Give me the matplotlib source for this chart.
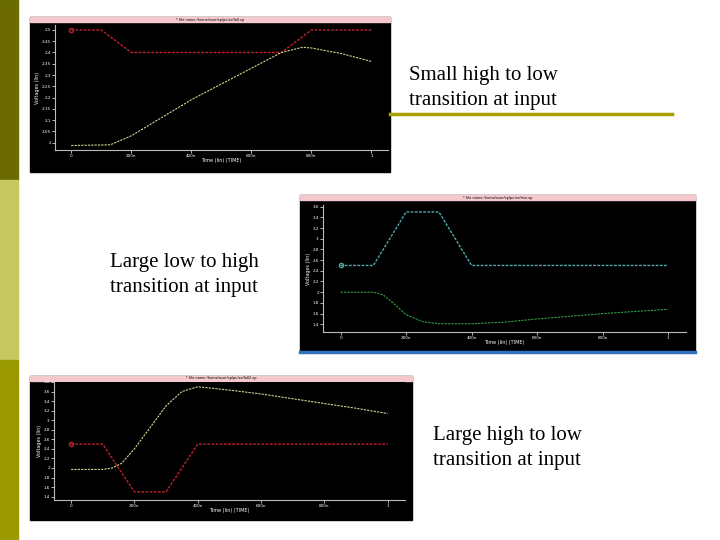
import matplotlib
matplotlib.use("Agg")
import matplotlib.pyplot as plt
from matplotlib.patches import Rectangle

W, H = 720, 540
fig = plt.figure(figsize=(7.2, 5.4), dpi=100)

# data
t1_in = [0, 0.1, 0.2, 0.7, 0.8, 1.0]
v1_in = [2.5, 2.5, 2.4, 2.4, 2.5, 2.5]
t1_out = [0, 0.13, 0.2, 0.3, 0.4, 0.5, 0.6, 0.7, 0.77, 0.8, 0.9, 1.0]
v1_out = [1.987, 1.99, 2.03, 2.11, 2.19, 2.26, 2.33, 2.40, 2.423, 2.42, 2.395, 2.36]
yt1 = [2, 2.05, 2.1, 2.15, 2.2, 2.25, 2.3, 2.35, 2.4, 2.45, 2.5]

t2_in = [0, 0.1, 0.2, 0.3, 0.4, 1.0]
v2_in = [2.5, 2.5, 3.5, 3.5, 2.5, 2.5]
t2_out = [0, 0.1, 0.13, 0.16, 0.2, 0.25, 0.3, 0.4, 0.5, 0.6, 0.7, 0.8, 0.9, 1.0]
v2_out = [2.0, 2.0, 1.95, 1.8, 1.58, 1.45, 1.41, 1.41, 1.44, 1.5, 1.55, 1.6, 1.64, 1.68]
yt2 = [1.4, 1.6, 1.8, 2, 2.2, 2.4, 2.6, 2.8, 3, 3.2, 3.4, 3.6]

t3_in = [0, 0.1, 0.2, 0.3, 0.4, 1.0]
v3_in = [2.5, 2.5, 1.5, 1.5, 2.5, 2.5]
t3_out = [0, 0.1, 0.13, 0.16, 0.2, 0.25, 0.3, 0.35, 0.4, 0.5, 0.6, 0.7, 0.8, 0.9, 1.0]
v3_out = [1.97, 1.97, 2.0, 2.1, 2.4, 2.85, 3.3, 3.6, 3.7, 3.63, 3.55, 3.45, 3.35, 3.25, 3.14]
yt3 = [1.4, 1.6, 1.8, 2, 2.2, 2.4, 2.6, 2.8, 3, 3.2, 3.4, 3.6, 3.8]

xt = [0, 0.2, 0.4, 0.6, 0.8, 1.0]
xtl = ["0", "200n", "400n", "600n", "800n", "1"]

def px(x0, y0, x1, y1):
    return [x0 / W, 1 - y1 / H, (x1 - x0) / W, (y1 - y0) / H]

# slide side bars
fig.patches.append(Rectangle((0, 1 - 180 / H), 18 / W, 180 / H, transform=fig.transFigure, color="#6b6b00"))
fig.patches.append(Rectangle((0, 1 - 360 / H), 18 / W, 180 / H, transform=fig.transFigure, color="#c8c860"))
fig.patches.append(Rectangle((0, 0), 18 / W, 180 / H, transform=fig.transFigure, color="#9a9a00"))

def panel(frame, inner, ylim, yt, t_in, v_in, c_in, t_out, v_out, c_out, title):
    x0, y0, x1, y1 = frame
    fig.patches.append(Rectangle((x0 / W, 1 - y1 / H), (x1 - x0) / W, (y1 - y0) / H,
                                 transform=fig.transFigure, color="black", zorder=-2))
    fig.patches.append(Rectangle((x0 / W, 1 - (y0 + 5) / H), (x1 - x0) / W, 5 / H,
                                 transform=fig.transFigure, color="#f4c8cc", zorder=-1))
    fig.text((x0 + x1) / 2 / W, 1 - (y0 + 2.5) / H, title, fontsize=2.5, ha="center", va="center")
    ax = fig.add_axes(px(*inner))
    ax.set_zorder(1)
    ax.set_facecolor("black")
    ax.plot(t_in, v_in, color=c_in, lw=1, ls=(0, (2, 1)))
    ax.plot(t_out, v_out, color=c_out, lw=0.8, ls=(0, (2, 1)))
    ax.plot([0], [v_in[0]], marker="o", mfc="none", mec=c_in, ms=3)
    ax.set_xlim(-0.054, 1.055)
    ax.set_ylim(*ylim)
    ax.set_xticks(xt)
    ax.set_xticklabels(xtl)
    ax.set_yticks(yt)
    ax.set_yticklabels([f"{v:g}" for v in yt])
    ax.tick_params(colors="white", labelsize=3, length=2, width=0.5, pad=1)
    for s in ax.spines.values():
        s.set_visible(False)
    ax.spines["bottom"].set_visible(True)
    ax.spines["left"].set_visible(True)
    ax.spines["bottom"].set_color("#bbbbbb")
    ax.spines["left"].set_color("#bbbbbb")
    ax.set_xlabel("Time (lin) (TIME)", color="white", fontsize=3.5, labelpad=0)
    ax.set_ylabel("Voltages (lin)", color="white", fontsize=3.5, labelpad=1)
    return ax

panel((30, 17, 390, 172), (55, 25, 388, 150), (1.967, 2.522), yt1,
      t1_in, v1_in, "#c0202a", t1_out, v1_out, "#c8d890", "* file name /home/user/sp/pulse/fall.sp")
panel((300, 195, 695, 352), (323, 205, 686, 332), (1.256, 3.63), yt2,
      t2_in, v2_in, "#50a8a8", t2_out, v2_out, "#30a040", "* file name /home/user/sp/pulse/rise.sp")
panel((30, 376, 412, 520), (54, 382, 405, 500), (1.33, 3.8), yt3,
      t3_in, v3_in, "#c0202a", t3_out, v3_out, "#c8d890", "* file name /home/user/sp/pulse/fall2.sp")

# decorative lines
fig.lines.append(plt.Line2D([390 / W, 672 / W], [1 - 114 / H] * 2, transform=fig.transFigure, color="#a8a000", lw=2.5))
fig.lines.append(plt.Line2D([300 / W, 695 / W], [1 - 352 / H] * 2, transform=fig.transFigure, color="#3070c0", lw=2.5))

fs = 15
fig.text(409 / W, 1 - 88 / H, "Small high to low\ntransition at input", fontsize=fs,
         family="Liberation Serif", va="center", linespacing=1.45)
fig.text(110 / W, 1 - 275 / H, "Large low to high\ntransition at input", fontsize=fs,
         family="Liberation Serif", va="center", linespacing=1.45)
fig.text(433 / W, 1 - 448 / H, "Large high to low\ntransition at input", fontsize=fs,
         family="Liberation Serif", va="center", linespacing=1.45)

fig.savefig("out.png", dpi=100)
